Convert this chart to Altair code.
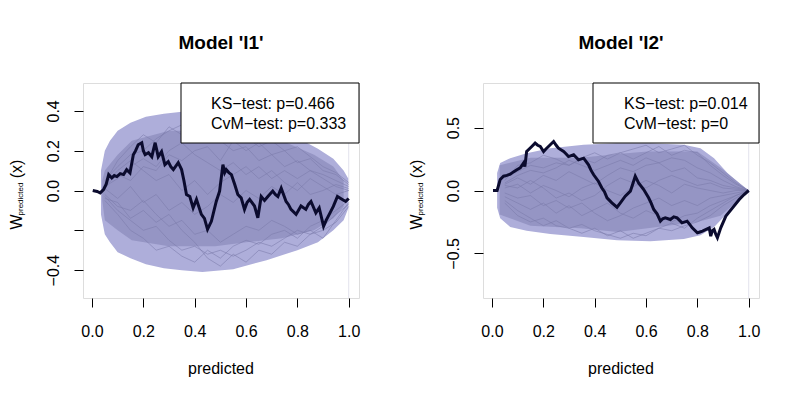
import altair as alt
import pandas as pd

FONT = "Liberation Sans"
X_DOMAIN = [-0.035, 1.04]

# ---------------- Panel 1 : Model 'l1' ----------------
obs1_x = [0.003, 0.02, 0.032, 0.045, 0.055, 0.065, 0.077, 0.087, 0.097, 0.11, 0.123, 0.135, 0.148,
          0.161, 0.17, 0.18, 0.194, 0.2, 0.207, 0.22, 0.233, 0.246, 0.258, 0.271, 0.284, 0.297,
          0.307, 0.317, 0.336, 0.349, 0.358, 0.368, 0.381, 0.394, 0.407, 0.426, 0.438, 0.45, 0.465,
          0.484, 0.497, 0.51, 0.517, 0.523, 0.533, 0.543, 0.556, 0.568, 0.581, 0.594, 0.604, 0.614,
          0.633, 0.646, 0.659, 0.672, 0.685, 0.704, 0.714, 0.724, 0.737, 0.756, 0.765, 0.775, 0.795,
          0.814, 0.833, 0.843, 0.853, 0.872, 0.885, 0.902, 0.912, 0.924, 0.94, 0.956, 0.975, 0.988, 1.0]
obs1_y = [0.0, -0.005, -0.012, 0.005, 0.03, 0.08, 0.063, 0.075, 0.07, 0.085, 0.08, 0.105, 0.088,
          0.18, 0.2, 0.23, 0.24, 0.2, 0.18, 0.19, 0.17, 0.24, 0.17, 0.195, 0.13, 0.145,
          0.12, 0.105, 0.14, 0.105, 0.05, -0.02, -0.03, -0.087, -0.045, -0.12, -0.14, -0.195, -0.155,
          -0.055, -0.003, 0.13, 0.09, 0.105, 0.09, 0.08, 0.03, -0.02, -0.037, -0.095, -0.06, -0.045,
          -0.078, -0.137, -0.03, -0.05, -0.03, -0.003, -0.02, -0.03, 0.012, -0.055, -0.07, -0.095, -0.12,
          -0.078, -0.095, -0.07, -0.055, -0.112, -0.087, -0.18, -0.15, -0.12, -0.08, -0.03, -0.045, -0.055, -0.04]

env1_x = [0.035, 0.05, 0.07, 0.10, 0.15, 0.21, 0.28, 0.35, 0.43, 0.55, 0.68, 0.80, 0.88, 0.94, 0.98, 0.998]
env1_hi = [0.10, 0.20, 0.25, 0.30, 0.34, 0.37, 0.385, 0.395, 0.40, 0.365, 0.31, 0.265, 0.21, 0.16, 0.10, 0.06]
env1_lo = [-0.12, -0.22, -0.26, -0.31, -0.34, -0.37, -0.39, -0.40, -0.41, -0.395, -0.35, -0.30, -0.26, -0.20, -0.15, -0.09]

core1_x = [0.04, 0.05, 0.10, 0.155, 0.30, 0.48, 0.60, 0.74, 0.865, 0.94, 0.98]
core1_hi = [0.05, 0.10, 0.18, 0.25, 0.30, 0.30, 0.28, 0.25, 0.18, 0.12, 0.05]
core1_lo = [-0.05, -0.15, -0.20, -0.25, -0.28, -0.28, -0.26, -0.24, -0.20, -0.14, -0.08]

path_x = [0.05, 0.10, 0.15, 0.20, 0.25, 0.30, 0.35, 0.40, 0.45, 0.50,
          0.55, 0.60, 0.65, 0.70, 0.75, 0.80, 0.85, 0.90, 0.95, 1.0]
paths1 = [
    [0.05, 0.12, 0.18, 0.20, 0.26, 0.30, 0.33, 0.28, 0.32, 0.25, 0.20, 0.22, 0.15, 0.18, 0.12, 0.15, 0.10, 0.08, 0.05, 0.02],
    [-0.05, -0.12, -0.20, -0.24, -0.30, -0.28, -0.33, -0.36, -0.30, -0.34, -0.28, -0.25, -0.27, -0.22, -0.20, -0.24, -0.18, -0.15, -0.10, -0.05],
    [0.02, 0.08, 0.05, 0.12, 0.10, 0.18, 0.15, 0.20, 0.22, 0.15, 0.25, 0.20, 0.24, 0.18, 0.20, 0.14, 0.16, 0.10, 0.08, 0.03],
    [-0.02, -0.08, -0.10, -0.05, -0.12, -0.18, -0.15, -0.22, -0.20, -0.26, -0.22, -0.18, -0.20, -0.15, -0.18, -0.22, -0.20, -0.24, -0.15, -0.06],
    [0.03, 0.10, 0.15, 0.10, 0.05, 0.08, 0.00, 0.05, -0.02, 0.04, 0.08, 0.12, 0.06, 0.10, 0.04, 0.00, 0.06, 0.02, -0.02, 0.00],
    [-0.03, -0.10, -0.15, -0.20, -0.18, -0.25, -0.30, -0.28, -0.32, -0.30, -0.33, -0.30, -0.26, -0.28, -0.24, -0.20, -0.22, -0.20, -0.16, -0.08],
    [0.04, 0.15, 0.22, 0.28, 0.24, 0.32, 0.28, 0.34, 0.30, 0.26, 0.30, 0.27, 0.22, 0.25, 0.20, 0.22, 0.17, 0.12, 0.09, 0.04],
    [-0.04, -0.06, -0.14, -0.10, -0.16, -0.12, -0.20, -0.26, -0.34, -0.38, -0.32, -0.36, -0.30, -0.32, -0.26, -0.28, -0.22, -0.18, -0.12, -0.07],
    [0.01, -0.04, 0.02, -0.06, -0.02, -0.10, -0.06, -0.12, -0.08, -0.02, -0.06, 0.00, -0.04, 0.02, -0.02, 0.04, -0.02, 0.00, 0.03, 0.01],
    [0.02, 0.06, 0.12, 0.16, 0.12, 0.20, 0.24, 0.18, 0.14, 0.10, 0.14, 0.08, 0.12, 0.06, 0.10, 0.06, 0.10, 0.06, 0.02, 0.00],
]

# ---------------- Panel 2 : Model 'l2' ----------------
obs2_x = [0.004, 0.02, 0.032, 0.045, 0.058, 0.071, 0.085, 0.097, 0.11, 0.123, 0.128, 0.135, 0.145, 0.155,
          0.168, 0.178, 0.188, 0.201, 0.21, 0.22, 0.24, 0.25, 0.259, 0.279, 0.289, 0.298, 0.318, 0.337,
          0.357, 0.376, 0.386, 0.396, 0.415, 0.428, 0.438, 0.448, 0.467, 0.487, 0.5, 0.519, 0.539, 0.548,
          0.558, 0.571, 0.591, 0.61, 0.62, 0.63, 0.643, 0.656, 0.665, 0.675, 0.695, 0.708, 0.721, 0.74,
          0.76, 0.77, 0.78, 0.8, 0.81, 0.82, 0.846, 0.852, 0.858, 0.865, 0.872, 0.878, 0.891, 0.911,
          0.937, 0.963, 0.982, 1.0]
obs2_y = [0.0, 0.0, 0.088, 0.114, 0.12, 0.13, 0.15, 0.165, 0.18, 0.218, 0.19, 0.31, 0.33, 0.35,
          0.377, 0.36, 0.35, 0.31, 0.33, 0.35, 0.39, 0.36, 0.337, 0.31, 0.29, 0.27, 0.284, 0.244,
          0.257, 0.204, 0.16, 0.125, 0.072, 0.02, -0.01, -0.058, -0.098, -0.133, -0.098, -0.045, -0.005, 0.05,
          0.114, 0.06, 0.008, -0.058, -0.1, -0.151, -0.186, -0.244, -0.225, -0.218, -0.231, -0.21, -0.218, -0.257,
          -0.244, -0.27, -0.297, -0.337, -0.33, -0.323, -0.297, -0.363, -0.32, -0.31, -0.35, -0.376, -0.297, -0.204,
          -0.138, -0.072, -0.032, 0.0]

env2_x = [0.02, 0.032, 0.071, 0.135, 0.227, 0.357, 0.487, 0.617, 0.747, 0.812, 0.865, 0.917, 0.969, 1.0]
env2_hi = [0.14, 0.218, 0.257, 0.297, 0.337, 0.363, 0.376, 0.376, 0.363, 0.337, 0.257, 0.14, 0.047, 0.0]
env2_lo = [-0.138, -0.22, -0.29, -0.32, -0.345, -0.37, -0.395, -0.403, -0.385, -0.355, -0.29, -0.18, -0.072, 0.0]

core2_x = [0.03, 0.15, 0.345, 0.49, 0.605, 0.80, 0.89, 0.97, 1.0]
core2_hi = [0.20, 0.26, 0.26, 0.29, 0.31, 0.31, 0.18, 0.05, 0.0]
core2_lo = [-0.19, -0.28, -0.30, -0.33, -0.30, -0.25, -0.20, -0.06, 0.0]

paths2 = [
    [0.10, 0.15, 0.20, 0.18, 0.22, 0.20, 0.25, 0.22, 0.28, 0.30, 0.25, 0.30, 0.35, 0.28, 0.32, 0.30, 0.20, 0.12, 0.05, 0.0],
    [-0.10, -0.20, -0.25, -0.22, -0.28, -0.30, -0.27, -0.32, -0.35, -0.38, -0.34, -0.36, -0.30, -0.32, -0.28, -0.25, -0.20, -0.12, -0.06, 0.0],
    [0.05, 0.10, 0.05, 0.12, 0.08, 0.15, 0.10, 0.05, 0.12, 0.18, 0.15, 0.20, 0.22, 0.15, 0.18, 0.10, 0.08, 0.04, 0.02, 0.0],
    [-0.05, -0.10, -0.15, -0.10, -0.18, -0.12, -0.20, -0.15, -0.10, -0.18, -0.22, -0.16, -0.20, -0.25, -0.20, -0.18, -0.12, -0.08, -0.04, 0.0],
    [0.02, 0.05, -0.02, 0.04, 0.00, -0.05, 0.02, 0.06, 0.00, -0.04, 0.03, 0.08, 0.04, -0.02, 0.05, 0.02, 0.00, -0.02, 0.00, 0.0],
    [0.08, 0.20, 0.22, 0.28, 0.25, 0.20, 0.26, 0.30, 0.25, 0.30, 0.33, 0.36, 0.30, 0.33, 0.36, 0.28, 0.22, 0.14, 0.06, 0.0],
    [-0.08, -0.16, -0.22, -0.28, -0.24, -0.30, -0.34, -0.30, -0.36, -0.32, -0.38, -0.34, -0.30, -0.26, -0.30, -0.22, -0.16, -0.10, -0.04, 0.0],
    [0.04, 0.02, 0.08, 0.02, -0.06, -0.02, -0.08, -0.04, 0.04, 0.10, 0.06, 0.02, 0.08, 0.12, 0.08, 0.04, 0.06, 0.02, 0.01, 0.0],
    [-0.02, -0.06, -0.04, -0.12, -0.08, -0.14, -0.10, -0.18, -0.24, -0.20, -0.14, -0.10, -0.06, -0.12, -0.08, -0.12, -0.06, -0.04, -0.02, 0.0],
    [0.06, 0.12, 0.16, 0.14, 0.18, 0.24, 0.20, 0.16, 0.20, 0.24, 0.20, 0.26, 0.22, 0.26, 0.24, 0.18, 0.14, 0.08, 0.03, 0.0],
]

x_ticks = [0.0, 0.2, 0.4, 0.6, 0.8, 1.0]
y1_ticks = [-0.4, -0.2, 0.0, 0.2, 0.4]
y2_ticks = [-0.5, 0.0, 0.5]
titles = ["Model 'l1'", "Model 'l2'"]
ks_text = ["KS\u2212test: p=0.466", "KS\u2212test: p=0.014"]
cvm_text = ["CvM\u2212test: p=0.333", "CvM\u2212test: p=0"]

W, H = 276, 215
ENV_COLOR = "#AEAEDA"
CORE_COLOR = "#8A8ABA"
PATH_COLOR = "#7A7AAA"
OBS_COLOR = "#0B0B2E"


def panel(obs_x, obs_y, env_x, env_hi, env_lo, core_x, core_hi, core_lo, paths,
          ydom, yticks, title, ks, cvm, box_left, text_left, anchor=False):
    xs = alt.Scale(domain=X_DOMAIN, nice=False, zero=False)
    ys = alt.Scale(domain=ydom, nice=False, zero=False)
    xaxis = alt.Axis(values=x_ticks, format=".1f", title=None, grid=False, domain=False,
                     tickColor="black", tickSize=9, labelFontSize=16, labelFont=FONT,
                     labelColor="black", labelPadding=16, labelFlush=False)
    yaxis = alt.Axis(values=yticks, title=None, grid=False, domain=False,
                     tickColor="black", tickSize=9, labelFontSize=16, labelFont=FONT,
                     labelColor="black", labelPadding=13, labelAngle=270,
                     labelAlign="center", labelBaseline="bottom", labelFlush=False,
                     labelExpr="abs(datum.value + 0.2) < 1e-9 ? '' : format(datum.value, '.1f')")

    env_df = pd.DataFrame({"x": env_x, "hi": env_hi, "lo": env_lo})
    core_df = pd.DataFrame({"x": core_x, "hi": core_hi, "lo": core_lo})
    rows = []
    for i, p in enumerate(paths):
        for xv, yv in zip(path_x, p):
            rows.append({"x": xv, "y": yv, "k": i})
    path_df = pd.DataFrame(rows)
    obs_df = pd.DataFrame({"x": obs_x, "y": obs_y})
    one = pd.DataFrame({"x": [1.0]})

    vline = alt.Chart(one).mark_rule(color="#E2E2EC", strokeWidth=1).encode(
        x=alt.X("x:Q", scale=xs, axis=xaxis))
    env = alt.Chart(env_df).mark_area(color=ENV_COLOR, opacity=1).encode(
        x=alt.X("x:Q", scale=xs, axis=xaxis),
        y=alt.Y("hi:Q", scale=ys, axis=yaxis), y2="lo:Q")
    core = alt.Chart(core_df).mark_area(color=CORE_COLOR, opacity=0.7).encode(
        x=alt.X("x:Q", scale=xs), y=alt.Y("hi:Q", scale=ys), y2="lo:Q")
    pth = alt.Chart(path_df).mark_line(color=PATH_COLOR, strokeWidth=1, opacity=0.55).encode(
        x=alt.X("x:Q", scale=xs), y=alt.Y("y:Q", scale=ys), detail="k:N")
    obs = alt.Chart(obs_df).mark_line(color=OBS_COLOR, strokeWidth=3, strokeJoin="miter").encode(
        x=alt.X("x:Q", scale=xs), y=alt.Y("y:Q", scale=ys))

    d = pd.DataFrame({"a": [0]})
    box = alt.Chart(d).mark_rect(fill="white", stroke="black", strokeWidth=1).encode(
        x=alt.value(box_left), x2=alt.value(W), y=alt.value(0), y2=alt.value(60))
    t1 = alt.Chart(d).mark_text(text=ks, font=FONT, fontSize=16, align="left",
                                baseline="middle", color="black").encode(
        x=alt.value(text_left), y=alt.value(21))
    t2 = alt.Chart(d).mark_text(text=cvm, font=FONT, fontSize=16, align="left",
                                baseline="middle", color="black").encode(
        x=alt.value(text_left), y=alt.value(41))
    ttl = alt.Chart(d).mark_text(text=title, font=FONT, fontSize=19, fontWeight="bold",
                                 align="center", baseline="middle", color="black").encode(
        x=alt.value(W / 2), y=alt.value(-40))
    xlab = alt.Chart(d).mark_text(text="predicted", font=FONT, fontSize=16,
                                  align="center", baseline="middle", color="black").encode(
        x=alt.value(W / 2), y=alt.value(286))
    wl = alt.Chart(d).mark_text(text="W", font=FONT, fontSize=16, angle=270,
                                align="center", baseline="middle", color="black").encode(
        x=alt.value(-66), y=alt.value(139))
    sub = alt.Chart(d).mark_text(text="predicted", font=FONT, fontSize=8, angle=270,
                                 align="center", baseline="middle", color="black").encode(
        x=alt.value(-62), y=alt.value(116))
    px_ = alt.Chart(d).mark_text(text="(x)", font=FONT, fontSize=16, angle=270,
                                 align="center", baseline="middle", color="black").encode(
        x=alt.value(-66), y=alt.value(86))
    layers = [vline, env, core, pth, obs, box, t1, t2, ttl, xlab, wl, sub, px_]
    if anchor:
        anc = alt.Chart(d).mark_rule(color="white", strokeWidth=1).encode(
            x=alt.value(-73.5), x2=alt.value(-72.5), y=alt.value(-73.5))
        layers.append(anc)
    return alt.layer(*layers).properties(width=W, height=H)


p1 = panel(obs1_x, obs1_y, env1_x, env1_hi, env1_lo, core1_x, core1_hi, core1_lo, paths1,
           [-0.54, 0.54], y1_ticks, titles[0], ks_text[0], cvm_text[0], 98, 128, anchor=True)
p2 = panel(obs2_x, obs2_y, env2_x, env2_hi, env2_lo, core2_x, core2_hi, core2_lo, paths2,
           [-0.855, 0.855], y2_ticks, titles[1], ks_text[1], cvm_text[1], 110, 141)

chart = alt.hconcat(p1, p2, spacing=124, bounds="flush",
                    padding={"left": 0, "top": 0, "right": 5, "bottom": 5}).configure_view(
    stroke="black", strokeWidth=1).configure(background="white")

chart.save("out.html", embed_options={"renderer": "svg", "actions": False})
